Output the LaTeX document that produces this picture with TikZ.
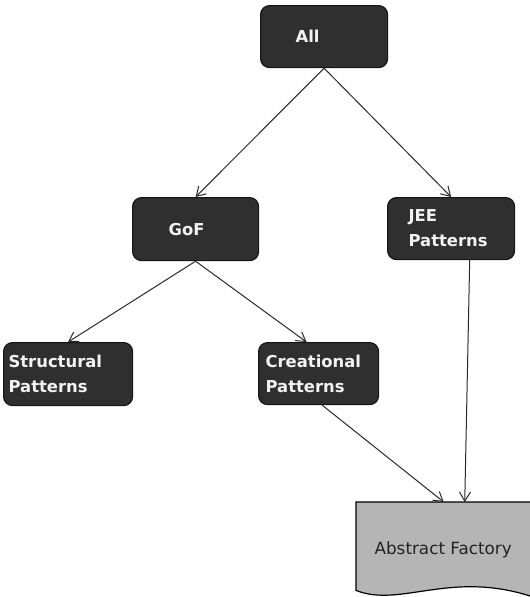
\documentclass[tikz,border=0pt]{standalone}
\usepackage{fontspec}
\setmainfont{DejaVu Sans}
\usetikzlibrary{arrows.meta,calc}
\definecolor{boxfill}{HTML}{2F2F2F}
\definecolor{boxline}{HTML}{151515}
\definecolor{boxtext}{HTML}{F2F2F2}
\definecolor{linkc}{HTML}{2A2A2A}
\definecolor{docfill}{HTML}{B5B5B5}
\definecolor{doctext}{HTML}{222222}
\begin{document}
\begin{tikzpicture}[x=1pt,y=-1pt,
  box/.style={draw=boxline, fill=boxfill, rounded corners=9pt, line width=1.2pt,
    anchor=north west, text=boxtext, font=\fontsize{16.4}{25}\selectfont\bfseries,
    align=left, inner ysep=0pt, minimum height=62pt},
  link/.style={draw=linkc, line width=1pt, -{Straight Barb[length=9pt,width=11pt]}}]
\useasboundingbox (0,0) rectangle (530,597);

% category boxes
\node[box, inner xsep=35pt, text width=57pt] (all) at (260,5) {\raisebox{-1.5pt}{All}};
\node[box, inner xsep=36pt, text width=54pt, minimum height=63pt] (gof) at (132,197) {\raisebox{-1pt}{GoF}};
\node[box, inner xsep=21pt, text width=85pt] (jee) at (387,197) {JEE\\Patterns};
\node[box, inner xsep=5pt, text width=119pt, minimum height=63pt] (struct) at (3,342) {Structural\\Patterns};
\node[box, inner xsep=7pt, text width=106pt] (creat) at (258,342) {Creational\\Patterns};

% document shape with a wavy lower edge
\node[anchor=north west, minimum width=175pt, minimum height=88pt, inner sep=0pt] (af) at (356,502) {};
\filldraw[draw=black, fill=docfill, line width=1.2pt]
  (af.north west) -- (af.north east) -- ($(af.south east)+(0,6)$)
  .. controls (450,570) and (400,608) .. (af.south west) -- cycle;
\node[text=doctext, font=\fontsize{16.8}{20}\selectfont, inner sep=0pt] (aflabel)
  at ($(af.center)+(-0.5,4)$) {Abstract Factory};

% connectors
\draw[link] (all.south) -- (gof.north);
\draw[link] (all.south) -- (jee.north);
\draw[link] (gof.south) -- (struct.north);
\draw[link] (gof.south) -- ($(creat.north west)!0.4!(creat.north east)$);
\draw[link] ($(creat.south west)!0.53!(creat.south east)$) -- (af.north);
\draw[link] ($(jee.south west)!0.645!(jee.south east)$) -- ($(af.north west)!0.62!(af.north east)$);
\end{tikzpicture}
\end{document}
